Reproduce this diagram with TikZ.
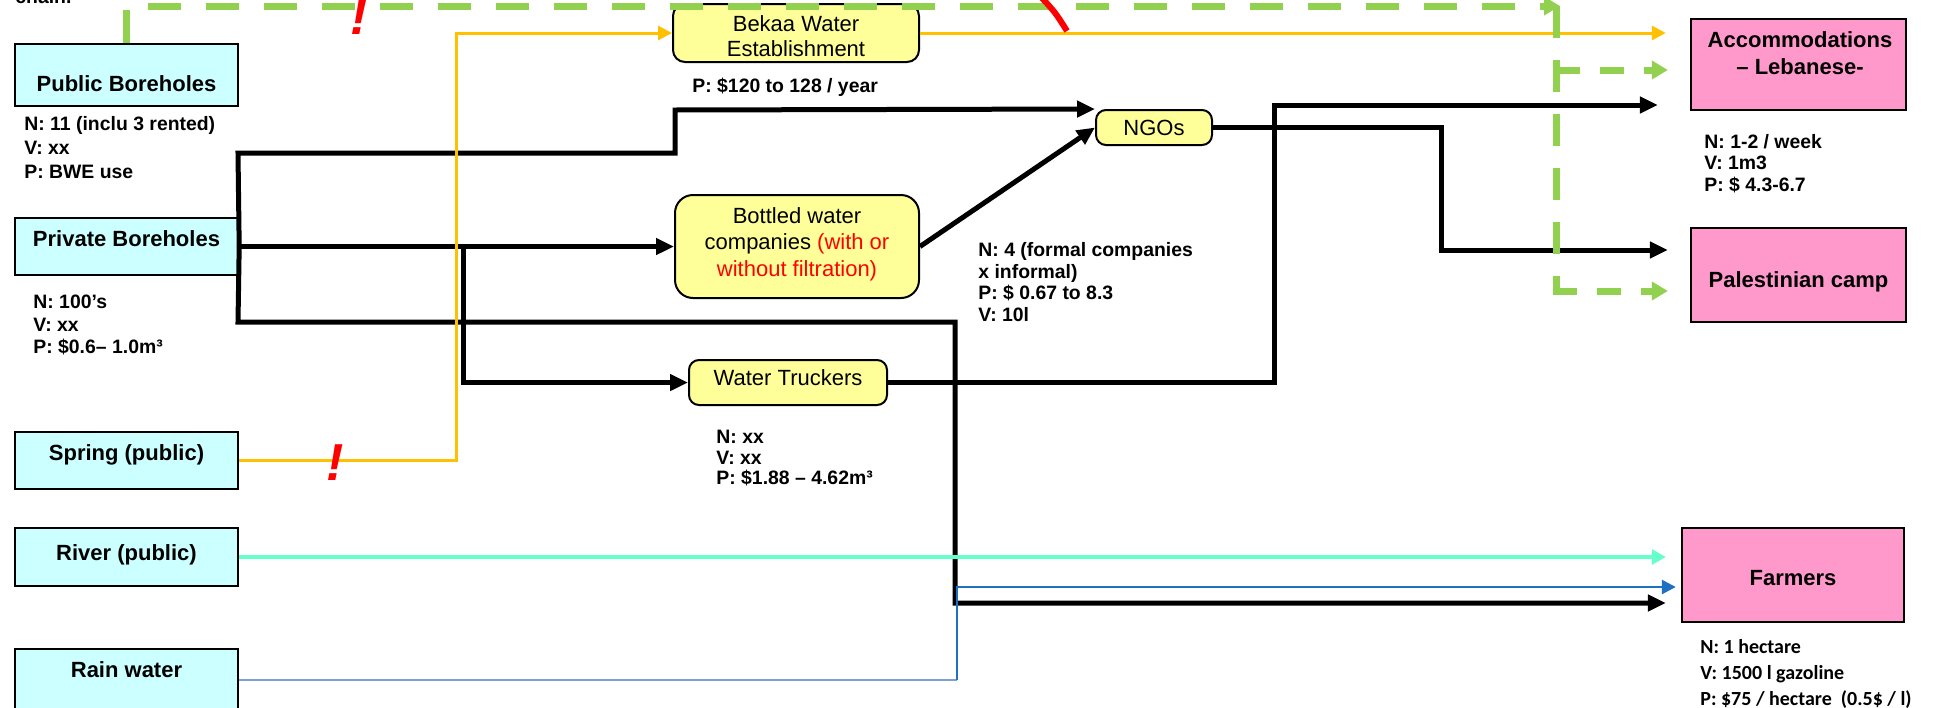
\documentclass[tikz,border=0pt]{standalone}
\usepackage{fontspec}
\setmainfont{Liberation Sans}
\newfontfamily\carlitofont{Carlito}
\usetikzlibrary{arrows.meta}
\definecolor{boxcyan}{HTML}{CCFFFF}
\definecolor{boxyel}{HTML}{FFFF99}
\definecolor{boxpink}{HTML}{FF99CC}
\definecolor{lgreen}{HTML}{92D050}
\definecolor{lorange}{HTML}{FFC000}
\definecolor{laqua}{HTML}{66FFCC}
\definecolor{lblue}{HTML}{1F70C1}
\definecolor{lblue2}{HTML}{7C9FD4}
\begin{document}
\begin{tikzpicture}[x=0.5pt,y=-0.5pt,
  src/.style={draw=black,line width=1.2pt,fill=boxcyan,inner sep=0pt,minimum width=111.5pt},
  mid/.style={draw=black,line width=1pt,fill=boxyel,inner sep=0pt},
  dst/.style={draw=black,line width=1.2pt,fill=boxpink,inner sep=0pt},
  lab/.style={font=\fontsize{11}{13}\selectfont\bfseries,inner sep=0pt,anchor=base},
  mlab/.style={font=\fontsize{11}{12.5}\selectfont,inner sep=0pt,align=center},
  ann/.style={font=\fontsize{9.7}{11.5}\selectfont\bfseries,inner sep=0pt,anchor=north west,align=left},
  blk/.style={draw=black,line width=2.5pt,-{Triangle[length=9pt,width=8pt]}},
  org/.style={draw=lorange,line width=1.5pt,-{Triangle[length=7pt,width=7pt]}},
  aqu/.style={draw=laqua,line width=1.6pt,-{Triangle[length=7pt,width=7.5pt]}},
  blu/.style={draw=lblue,line width=1.3pt,-{Triangle[length=7pt,width=7pt]}},
  grn/.style={draw=lgreen,line width=3.5pt,dash pattern=on 16.5pt off 12.5pt},
  grntip/.style={-{Triangle[length=8pt,width=9pt]}},
  excl/.style={text=red,font=\fontsize{26}{26}\selectfont\bfseries\itshape,inner sep=0pt,anchor=base}
]
\fill[white] (0,0) rectangle (1936,707);
\useasboundingbox (0,0) rectangle (1936,707);

% partially visible heading
\node[font=\fontsize{9.7}{11}\selectfont\bfseries,anchor=base west,inner sep=0pt] (chn) at (15,3) {chain.};

% source boxes
\node[src,minimum height=31pt] (pb) at (126.5,75) {};
\node[src,minimum height=28.5pt] (pvb) at (126.5,246.5) {};
\node[src,minimum height=28.5pt] (spr) at (126.5,460.5) {};
\node[src,minimum height=29pt] (riv) at (126.5,557) {};
\node[src,minimum height=31pt] (rain) at (126.5,680) {};

% middle boxes
\node[mid,rounded corners=6pt,minimum width=123pt,minimum height=29pt] (bwe) at (796,33) {};
\node[mid,rounded corners=5pt,minimum width=58pt,minimum height=17.5pt] (ngo) at (1154,127.5) {};
\node[mid,rounded corners=9pt,minimum width=122pt,minimum height=51.5pt] (bot) at (797,246.5) {};
\node[mid,rounded corners=5pt,minimum width=99pt,minimum height=22.5pt] (wt) at (788,382.5) {};

% destination boxes
\node[dst,minimum width=107.5pt,minimum height=45.5pt] (acc) at (1798.5,64.5) {};
\node[dst,minimum width=107.5pt,minimum height=47pt] (pal) at (1798.5,275) {};
\node[dst,minimum width=111pt,minimum height=47pt] (farm) at (1793,575) {};

% box labels
\node[lab] (pbt) at (126.5,91) {Public Boreholes};
\node[lab] (pvbt) at (126.5,246) {Private Boreholes};
\node[lab] (sprt) at (126.5,460) {Spring (public)};
\node[lab] (rivt) at (126.5,560) {River (public)};
\node[lab] (raint) at (126.5,677) {Rain water};
\node[mlab,anchor=north] (bwet) at (796,15) {Bekaa Water\\Establishment};
\node[mlab] (ngot) at (1154,127.5) {NGOs};
\node[mlab,anchor=north,font=\fontsize{11}{13.25}\selectfont] (bott) at (797,207) {Bottled water\\companies \textcolor{red}{(with or}\\\textcolor{red}{without filtration)}};
\node[mlab,anchor=base] (wtt) at (788,385) {Water Truckers};
\node[lab,anchor=north,align=center,font=\fontsize{11}{13.5}\selectfont\bfseries] (acct) at (1800,31) {Accommodations\\– Lebanese-};
\node[lab] (palt) at (1798.5,287) {Palestinian camp};
\node[lab] (farmt) at (1793,585) {Farmers};

% annotations
\node[ann,font=\fontsize{9.7}{12}\selectfont\bfseries] (pba) at (24,116) {N: 11 (inclu 3 rented)\\V: xx\\P: BWE use};
\node[ann,font=\fontsize{9.7}{11.25}\selectfont\bfseries] (pvba) at (33,295) {N: 100's\\V: xx\\P: \$0.6– 1.0m³};
\node[ann] (bwea) at (692,78) {P: \$120 to 128 / year};
\node[ann,font=\fontsize{9.7}{10.8}\selectfont\bfseries] (bota) at (978,242) {N: 4 (formal companies\\x informal)\\P: \$ 0.67 to 8.3\\V: 10l};
\node[ann,font=\fontsize{9.7}{10.25}\selectfont\bfseries] (wta) at (716,430) {N: xx\\V: xx\\P: \$1.88 – 4.62m³};
\node[ann,font=\fontsize{9.7}{10.75}\selectfont\bfseries] (acca) at (1704,134) {N: 1-2 / week\\V: 1m3\\P: \$ 4.3-6.7};
\node[ann,font=\fontsize{10}{13}\selectfont\carlitofont\bfseries] (farma) at (1700,639) {N: 1 hectare\\V: 1500 l gazoline\\P: \$75 / hectare\ \ (0.5\$ / l)};

% junction coordinates
\coordinate (jwt) at (463,246.5);
\coordinate (jrain) at (957,680);
\coordinate (gend) at (1560,6);
\coordinate (gtop) at (1556,6);
\coordinate (gacc) at (1556,70);
\coordinate (gpal) at (1553,291);

% black connectors
\draw[blk] (pvb.east) -- (238,153) -- (675,153) -- (675,110) -- (ngo.north west);
\draw[blk] (pvb.east) -- (bot.west);
\draw[blk] (jwt) -- (463,382.5) -- (wt.west);
\draw[blk,shorten >=7.5pt] (pvb.east) -- (238,322) -- (955,322) -- (955,603) -- (farm.west |- 0,603);
\draw[blk] (bot.east) -- (ngo.west);
\draw[blk,shorten >=11pt] (ngo.east) -- (1441,127.5) -- (1441,250) -- (pal.west |- 0,250);
\draw[blk,shorten >=16pt] (wt.east) -- (1274,382.5) -- (1274,105) -- (acc.west |- 0,105);

% orange connectors
\draw[org] (spr.east) -- (456,460.5) -- (456,33) -- (bwe.west);
\draw[org,shorten >=12pt] (bwe.east) -- (acc.west |- 0,33);

% river and rain
\draw[aqu,shorten >=7.5pt] (riv.east) -- (farm.west |- riv.east);
\draw[draw=lblue2,line width=1.3pt] (rain.east) -- (jrain);
\draw[blu,shorten >=2.5pt] (jrain) -- (957,587) -- (farm.west |- 0,587);

% green dashed connectors
\draw[grn,grntip] (pb.north) -- (126.5,6) -- (gend);
\draw[grn,dash pattern=on 16pt off 11pt] (gtop) -- (1556,291);
\draw[grn,grntip,dash pattern=on 12pt off 10pt,shorten >=11pt] (gpal) -- (pal.west |- gpal);
\draw[grn,grntip,dash pattern=on 12pt off 10pt,shorten >=11pt] (gacc) -- (acc.west |- gacc);

% red marks
\node[excl] (x1) at (335,480) {!};
\node[excl] (x2) at (359,34) {!};
\draw[red,line width=3pt] (1040,-4) .. controls (1055,12) .. (1067,31);
\end{tikzpicture}
\end{document}
